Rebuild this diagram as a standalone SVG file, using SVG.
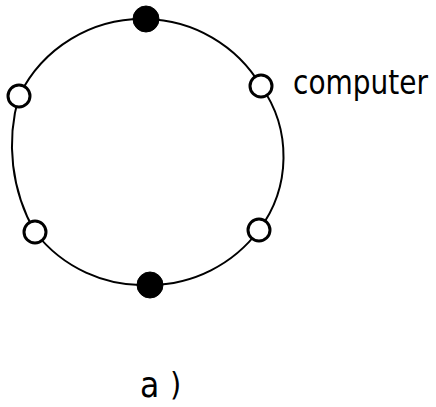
<svg xmlns="http://www.w3.org/2000/svg" width="436" height="407" viewBox="0 0 436 407">
<style>
.ring{fill:none;stroke:#000;stroke-width:2}
.open{fill:#fff;stroke:#000;stroke-width:3}
.full{fill:#000;stroke:#000;stroke-width:1}
.lbl{font-family:"DejaVu Sans Condensed","Liberation Sans",sans-serif;fill:#000}
</style>
<rect width="436" height="407" fill="#fff"/>
<g id="connectors">
<path class="ring" d="M146,19 A137,137 0 0 1 261,86 A122,122 0 0 1 259,230 A137,137 0 0 1 150,285 A137,137 0 0 1 35,232 A175,175 0 0 1 19,96 A137,137 0 0 1 146,19"/>
</g>
<g id="node-top"><circle class="full" cx="146" cy="19" r="13"/></g>
<g id="node-computer"><circle class="open" cx="261" cy="86" r="11"/></g>
<g id="node-lower-right"><circle class="open" cx="259" cy="230" r="11"/></g>
<g id="node-bottom"><circle class="full" cx="150" cy="285" r="13"/></g>
<g id="node-lower-left"><circle class="open" cx="35" cy="232" r="11"/></g>
<g id="node-left"><circle class="open" cx="19" cy="96" r="11"/></g>
<g id="labels">
<text class="lbl" x="293" y="94" font-size="33" textLength="135" lengthAdjust="spacingAndGlyphs">computer</text>
<text class="lbl" x="140" y="397" font-size="35">a</text>
<text class="lbl" x="170" y="395" font-size="32">)</text>
</g>
</svg>
